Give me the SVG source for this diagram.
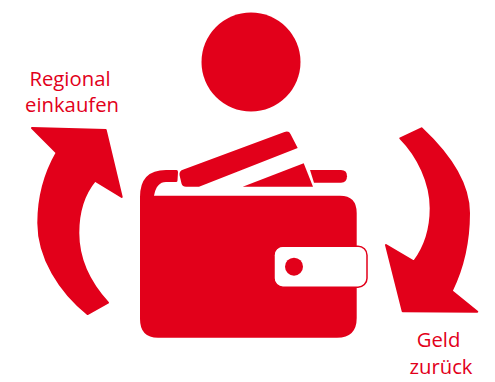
<svg xmlns="http://www.w3.org/2000/svg" width="495" height="382" viewBox="0 0 495 382">
<style>
.r{fill:#e2001a}
.t{fill:#e2001a;font-family:"Open Sans","Noto Sans",sans-serif;font-size:20.3px;text-anchor:middle}
</style>
<g id="person"><circle class="r" cx="251" cy="62" r="49.5"/></g>
<g id="wallet">
<path class="r" d="M155 195.7H340Q356.7 195.7 356.7 213V318Q356.7 337.7 337 337.7H158Q140 337.7 140 319V197Q140 170 166 170H176.5Q178 170 178 172L177.5 180.5Q177.5 182 176 182H166Q156.5 182 154 195.7Z"/>
<path class="r" d="M183.5 169.6L284.5 132Q289 130.6 290.5 134L297.7 148L199 186.7H186Q182.5 186.7 181.5 183.5L179.5 175Q179 171 183.5 169.6Z"/>
<path class="r" d="M242.7 186.7L303.7 163.3L313 186.7Z"/>
<path class="r" d="M310 170H341Q347 170 347 176.3Q347 182.7 341 182.7H314Z"/>
<rect x="274" y="246.2" width="93" height="41" rx="9" fill="#fff" stroke="#e2001a" stroke-width="1.5"/>
<rect x="275" y="247.3" width="90" height="38.4" rx="8" fill="#fff"/>
<circle class="r" cx="294" cy="266.7" r="9"/>
</g>
<g id="connectors">
<path class="r" stroke="#e2001a" stroke-width="2" stroke-linejoin="round" d="M32 128L105.7 130L121.7 197L95 180.7C84 194 78.3 213 78.3 233C78.3 259 90 283 108 302.7L87.5 314C60 292 38.3 258 38.3 223C38.3 197 45 173 56.7 152.7Z"/>
<path class="r" stroke="#e2001a" stroke-width="2" stroke-linejoin="round" d="M400.3 138.3L421.5 128.3C450 155 469 184 469 213C469 242 463 268 451.7 291L477.3 311.7L402.7 311.3L386 245L414 261.7C425 247 430.7 228 430.7 208.3C430.7 183 418 156 400.3 138.3Z"/>
</g>
<g id="label-regional"><text class="t" x="70" y="86">Regional</text><text class="t" x="72" y="112">einkaufen</text></g>
<g id="label-geld"><text class="t" x="438.5" y="346.5">Geld</text><text class="t" x="441" y="374">zurück</text></g>
</svg>
